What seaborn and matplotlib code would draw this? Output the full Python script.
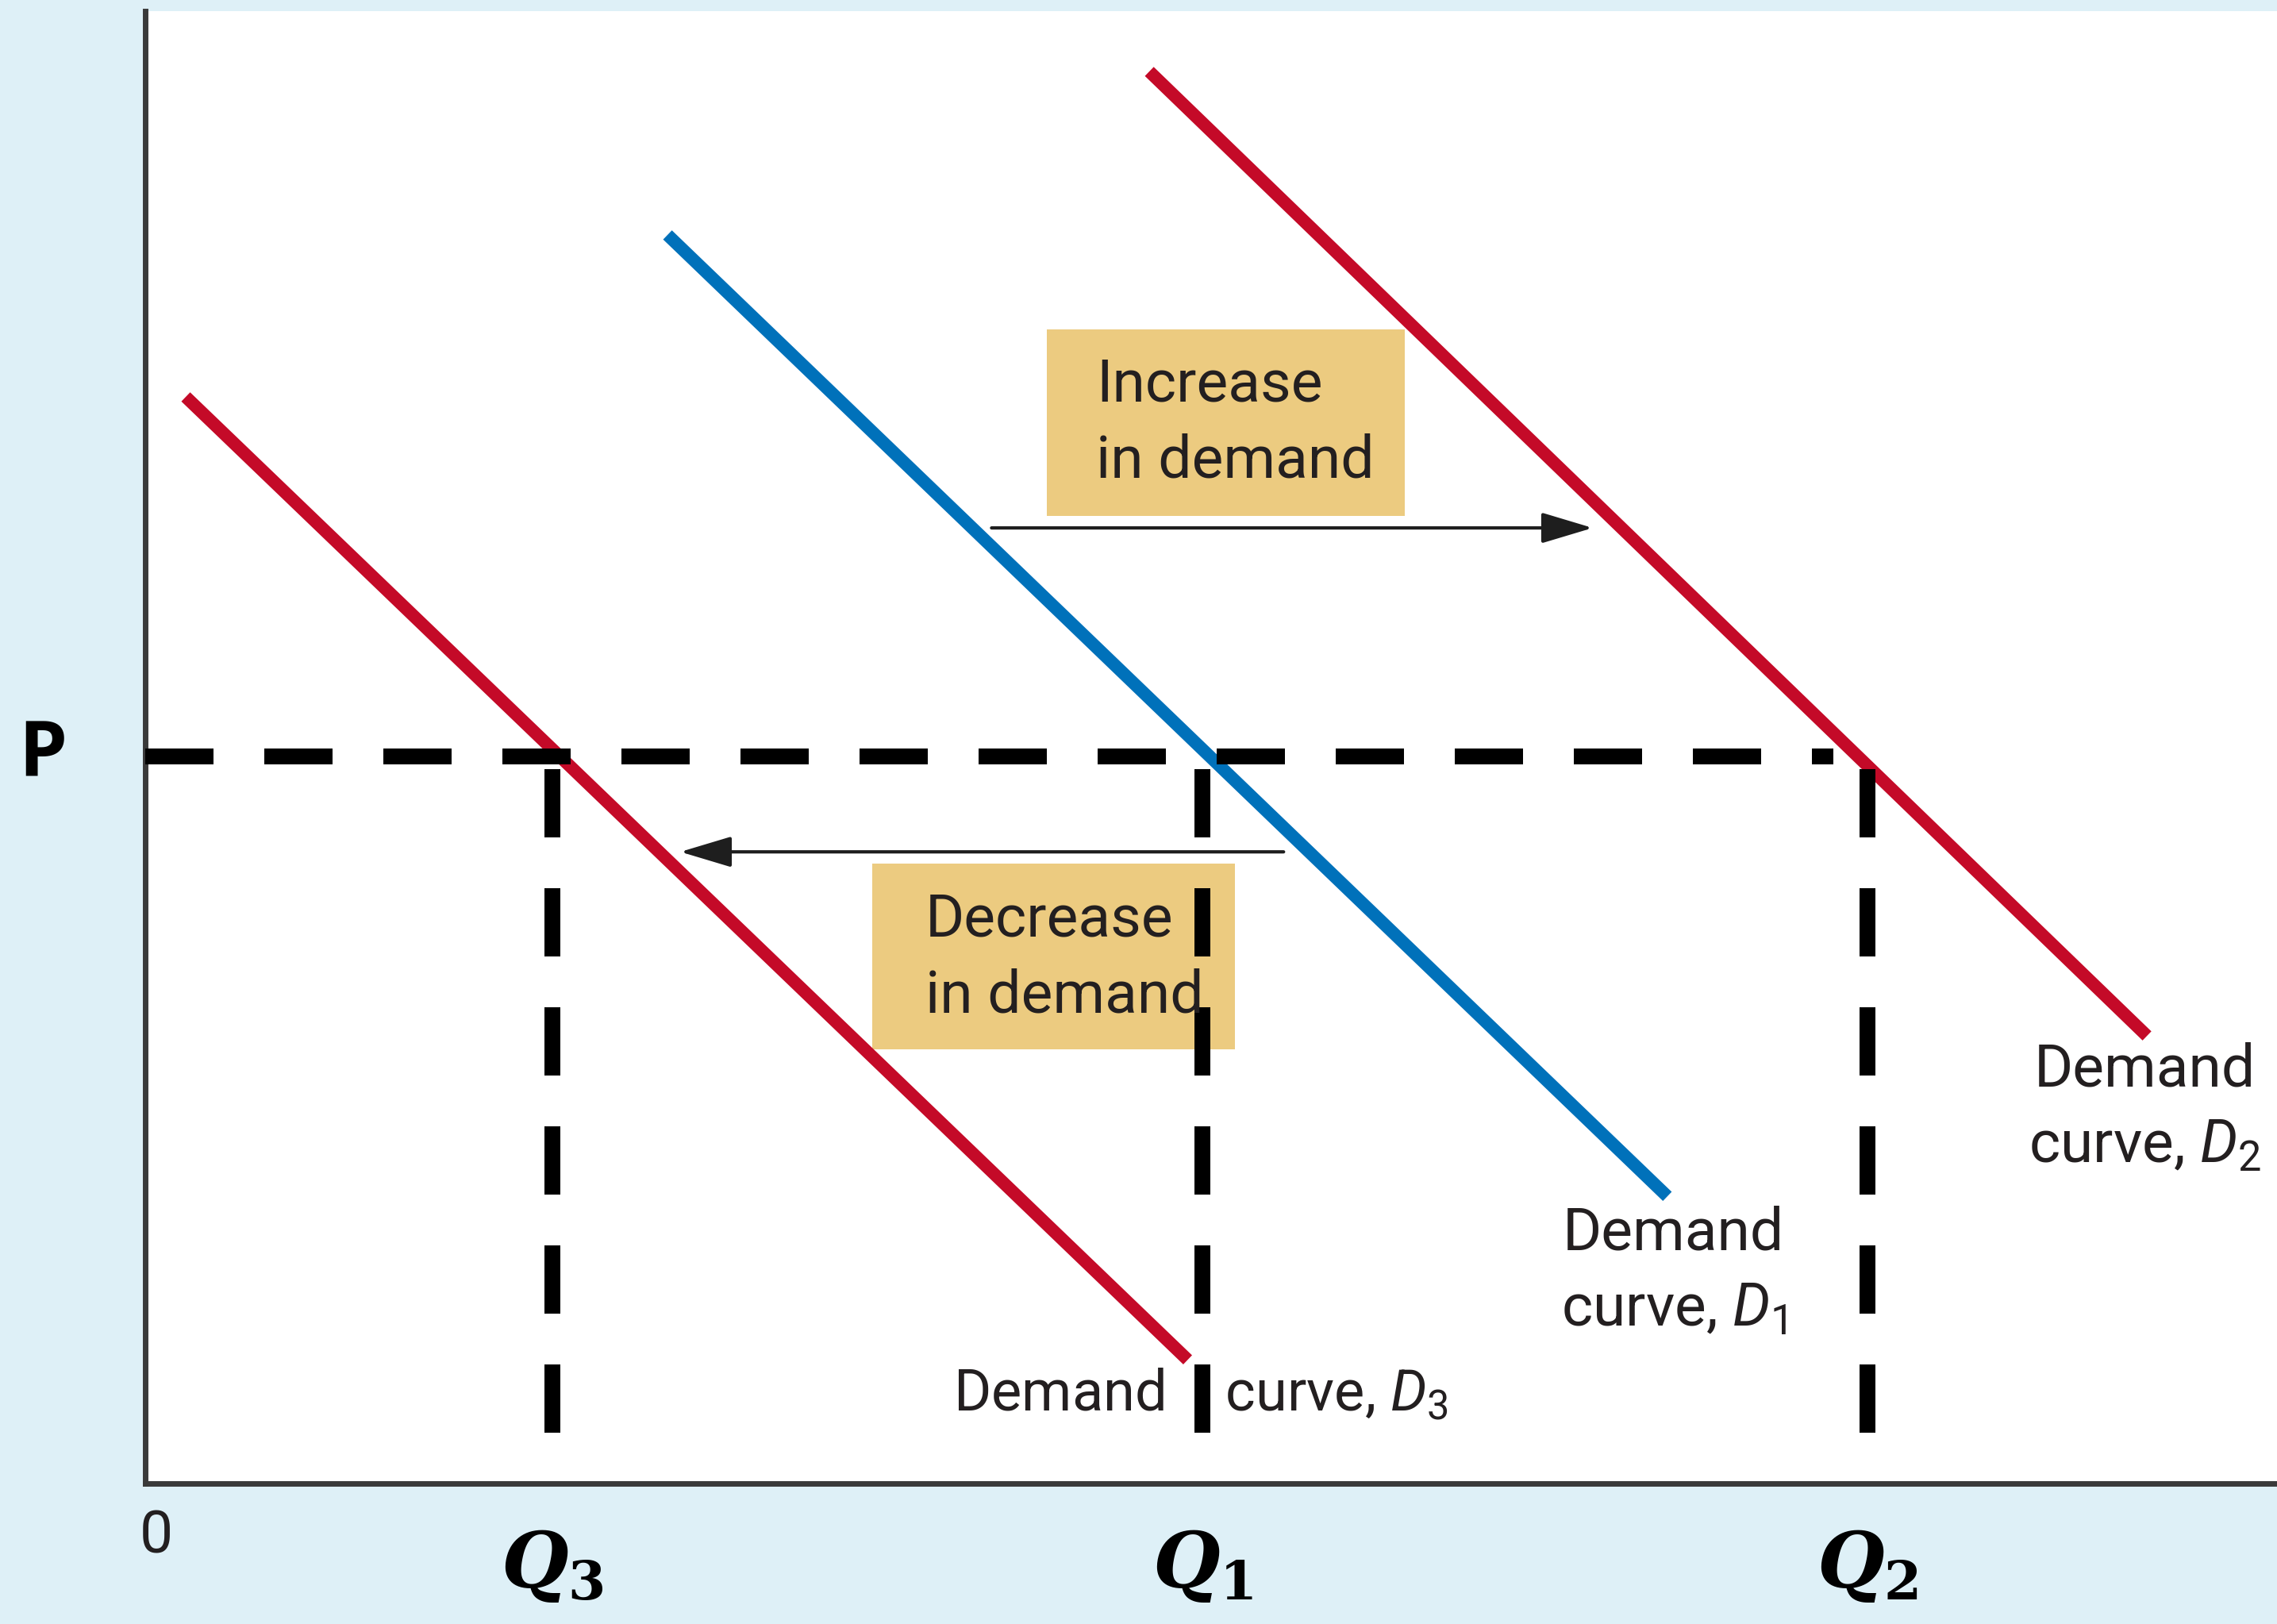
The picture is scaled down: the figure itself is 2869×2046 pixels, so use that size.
import pandas as pd
import matplotlib
matplotlib.use('Agg')
import matplotlib.pyplot as plt
import seaborn as sns
from matplotlib.patches import Rectangle

# demand curves, end points as (quantity, price) on a 0-100 scale
d1_q = [24.5, 71.4]
d1_p = [84.8, 19.5]
d2_q = [47.1, 93.9]
d2_p = [95.9, 30.4]
d3_q = [1.9, 48.9]
d3_p = [73.8, 8.4]

price_level = 49.4
price_line_end = 79.2
q_levels = [19.1, 49.6, 80.8]
q_labels = [r'$Q_{3}$', r'$Q_{1}$', r'$Q_{2}$']

RED = '#C40A28'
BLUE = '#0071BA'
BOX = '#ECCB80'
INK = '#231F20'
BG = '#DEF0F7'

sns.set_style('white')
plt.rcParams['font.family'] = ['Roboto', 'Open Sans', 'DejaVu Sans']
plt.rcParams['mathtext.fontset'] = 'custom'
plt.rcParams['mathtext.it'] = 'DejaVu Serif:bold:italic'
plt.rcParams['mathtext.rm'] = 'DejaVu Serif:bold'
plt.rcParams['mathtext.sf'] = 'Roboto:italic'
plt.rcParams['mathtext.tt'] = 'Roboto'

df = pd.concat([
    pd.DataFrame({'curve': 'D1', 'q': d1_q, 'p': d1_p}),
    pd.DataFrame({'curve': 'D2', 'q': d2_q, 'p': d2_p}),
    pd.DataFrame({'curve': 'D3', 'q': d3_q, 'p': d3_p}),
])

fig = plt.figure(figsize=(28.69, 20.46), dpi=100, facecolor=BG)
ax = fig.add_axes([183 / 2869, 1 - 1869 / 2046, 1 - 183 / 2869, (1869 - 14) / 2046])
ax.set_facecolor('white')
ax.set_xlim(0, 100)
ax.set_ylim(0, 100)

# shaded label boxes
ax.add_patch(Rectangle((42.3, 65.7), 16.8, 12.7, fc=BOX, ec='none', zorder=2))
ax.add_patch(Rectangle((34.1, 29.5), 17.0, 12.6, fc=BOX, ec='none', zorder=2))

sns.lineplot(
    data=df, x='q', y='p', hue='curve', units='curve', estimator=None, sort=False,
    palette={'D1': BLUE, 'D2': RED, 'D3': RED}, lw=11.5, legend=False,
    solid_capstyle='butt', zorder=3, ax=ax
)

# shift arrows
arrow = dict(arrowstyle='-|>,head_length=2.0,head_width=0.6', mutation_scale=20,
             lw=3, color='#1e1e1e', shrinkA=0, shrinkB=0)
ax.annotate('', xy=(67.9, 64.9), xytext=(39.7, 64.9), arrowprops=arrow, zorder=4)
ax.annotate('', xy=(25.1, 42.9), xytext=(53.4, 42.9), arrowprops=arrow, zorder=4)

# dashed guides for price and quantities
dash = (0, (4.3, 3.2))
ax.plot([0, price_line_end], [price_level, price_level], color='black', lw=14.4,
        linestyle=dash, zorder=5)
for q in q_levels:
    ax.plot([q, q], [price_level - 0.9, 0], color='black', lw=14.4, linestyle=dash, zorder=5)

fs = 54
ls = 1.45
ax.text(44.6, 72.0, 'Increase\nin demand', fontsize=fs, color=INK, ha='left', va='center',
        linespacing=ls, zorder=6)
ax.text(36.6, 35.7, 'Decrease\nin demand', fontsize=fs, color=INK, ha='left', va='center',
        linespacing=ls, zorder=6)
ax.text(71.7, 18.9, 'Demand\ncurve, $\\mathsf{D}_{\\mathtt{1}}$', fontsize=fs, color=INK,
        ha='center', va='top', multialignment='center', linespacing=ls, zorder=6)
ax.text(93.8, 30.0, 'Demand\ncurve, $\\mathsf{D}_{\\mathtt{2}}$', fontsize=fs, color=INK,
        ha='center', va='top', multialignment='center', linespacing=ls, zorder=6)
ax.text(37.9, 7.9, 'Demand\u2003curve, $\\mathsf{D}_{\\mathtt{3}}$', fontsize=52, color=INK,
        ha='left', va='top', zorder=6)

ax.text(0.5, -3.6, '0', fontsize=fs, color=INK, ha='center', va='center', clip_on=False)
ax.text(-4.8, price_level, 'P', fontsize=70, fontweight='bold', family=['Open Sans', 'DejaVu Sans'],
        color='black', ha='center', va='center', clip_on=False)
for q, lab in zip(q_levels, q_labels):
    ax.text(q, -5.6, lab, fontsize=70, color='black', ha='center', va='center', clip_on=False)

ax.set_xticks([])
ax.set_yticks([])
ax.set_xlabel('')
ax.set_ylabel('')
for side in ['top', 'right']:
    ax.spines[side].set_visible(False)
for side in ['left', 'bottom']:
    ax.spines[side].set_color('#3a3a3a')
    ax.spines[side].set_linewidth(5)

fig.savefig('out.png', dpi=100, facecolor=BG)
